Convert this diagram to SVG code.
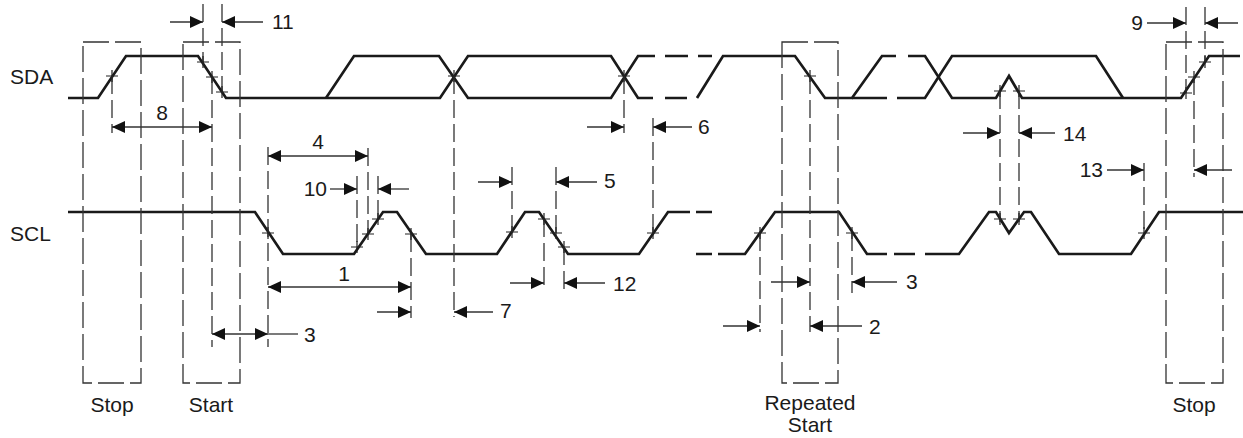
<svg xmlns="http://www.w3.org/2000/svg" width="1243" height="438" viewBox="0 0 1243 438">
<style>
.sig{fill:none;stroke:#1a1a1a;stroke-width:2.7;stroke-linejoin:miter}
.dl{fill:none;stroke:#333;stroke-width:1.3;stroke-dasharray:18,6}
.bx{fill:none;stroke:#333;stroke-width:1.3;stroke-dasharray:26,6}
.ar{fill:none;stroke:#333;stroke-width:1.3}
.cr{fill:none;stroke:#222;stroke-width:1.2}
text{font-family:"Liberation Sans",Arial,sans-serif;font-size:21px;fill:#1a1a1a}
</style>
<defs>
<marker id="ah" viewBox="0 0 13 12" refX="13" refY="6" markerWidth="13" markerHeight="12" markerUnits="userSpaceOnUse" orient="auto-start-reverse">
<path d="M0,0 L13,6 L0,12 z" fill="#111"/>
</marker>
</defs>

<g id="signal-labels">
<text x="10" y="84">SDA</text>
<text x="10" y="241">SCL</text>
</g>

<g id="sda">
<path class="sig" d="M68,98 L98,98 L126,56 L198,56 L226,98 L440,98 L468,56 L611,56 L638,98 L653,98"/>
<path class="sig" d="M326,98 L354,56 L439,56 L468,98 L611,98 L638,56 L655,56"/>
<path class="sig" d="M665,98 L687,98 M665,56 L688,56 M698,56 L712,56"/>
<path class="sig" d="M697,98 L723,56 L795,56 L825,98 L852,98 L882,56 L896,56 M908,56 L925,56 L952,98 L996,98 L1009,76 L1022,98 L1181,98 L1209,56 L1240,56"/>
<path class="sig" d="M852,98 L887,98 M897,98 L925,98 L952,56 L1096,56 L1123,98"/>
</g>

<g id="scl">
<path class="sig" d="M68,212 L255,212 L283,254 L354,254 L383,212 L397,212 L426,254 L497,254 L525,212 L539,212 L568,254 L639,254 L668,212 L690,212"/>
<path class="sig" d="M696,212 L712,212 M696,254 L712,254"/>
<path class="sig" d="M718,254 L745,254 L775,212 L839,212 L867,254 L887,254 M894,254 L915,254 M925,254 L959,254 L989,212 L996,212 L1009,233 L1024,212 L1031,212 L1059,254 L1131,254 L1159,212 L1243,212"/>
</g>

<g id="stop-box-left">
<path class="bx" d="M83,42 L141,42 L141,383 L83,383 Z"/>
<text x="112" y="412" text-anchor="middle">Stop</text>
</g>
<g id="start-box">
<path class="bx" d="M183,42 L240,42 L240,383 L183,383 Z"/>
<text x="211" y="412" text-anchor="middle">Start</text>
</g>
<g id="repeated-start-box">
<path class="bx" d="M782,42 L838,42 L838,383 L782,383 Z"/>
<text x="810" y="410" text-anchor="middle">Repeated</text>
<text x="810" y="432" text-anchor="middle">Start</text>
</g>
<g id="stop-box-right">
<path class="bx" d="M1166,42 L1223,42 L1223,383 L1166,383 Z"/>
<text x="1194" y="412" text-anchor="middle">Stop</text>
</g>

<g id="extension-lines">
<path class="dl" d="M112,76 V133 M203,4 V63 M222,4 V93 M212,76 V347 M268,147 V347 M357,176 V247 M368,148 V234 M378,176 V219 M411,234 V318 M454,76 V317 M512,167 V232 M556,167 V233 M544,219 V290 M564,247 V290 M624,76 V133 M653,118 V233 M760,233 V332 M810,76 V332 M852,233 V293 M1000,91 V222 M1019,91 V222 M1144,163 V233 M1186,7 V93 M1194,77 V177 M1205,7 V62"/>
</g>

<g id="crosses">
<path class="cr" d="M106,76 h12 M112,70 v12 M197,62 h12 M203,56 v12 M206,77 h12 M212,71 v12 M216,92 h12 M222,86 v12 M262,233 h12 M268,227 v12 M351,247 h12 M357,241 v12 M362,234 h12 M368,228 v12 M372,219 h12 M378,213 v12 M405,234 h12 M411,228 v12 M448,76 h12 M454,70 v12 M506,232 h12 M512,226 v12 M538,219 h12 M544,213 v12 M550,233 h12 M556,227 v12 M558,247 h12 M564,241 v12 M618,76 h12 M624,70 v12 M647,233 h12 M653,227 v12 M754,233 h12 M760,227 v12 M804,76 h12 M810,70 v12 M846,233 h12 M852,227 v12 M994,91 h12 M1000,85 v12 M1013,91 h12 M1019,85 v12 M994,219 h12 M1000,213 v12 M1013,219 h12 M1019,213 v12 M1138,233 h12 M1144,227 v12 M1180,93 h12 M1186,87 v12 M1188,77 h12 M1194,71 v12 M1199,62 h12 M1205,56 v12"/>
</g>

<g id="connectors">
<path class="ar" marker-end="url(#ah)" d="M170,22 H203"/>
<path class="ar" marker-end="url(#ah)" d="M263,22 H222"/>
<path class="ar" marker-start="url(#ah)" marker-end="url(#ah)" d="M112,127 H212"/>
<path class="ar" marker-start="url(#ah)" marker-end="url(#ah)" d="M268,156 H368"/>
<path class="ar" marker-end="url(#ah)" d="M330,189 H357"/>
<path class="ar" marker-end="url(#ah)" d="M409,189 H378"/>
<path class="ar" marker-start="url(#ah)" marker-end="url(#ah)" d="M268,287 H411"/>
<path class="ar" marker-start="url(#ah)" marker-end="url(#ah)" d="M212,334 H268"/>
<path class="ar" d="M268,334 H298"/>
<path class="ar" marker-end="url(#ah)" d="M377,312 H411"/>
<path class="ar" marker-end="url(#ah)" d="M493,312 H454"/>
<path class="ar" marker-end="url(#ah)" d="M478,182 H512"/>
<path class="ar" marker-end="url(#ah)" d="M597,182 H556"/>
<path class="ar" marker-end="url(#ah)" d="M510,283 H544"/>
<path class="ar" marker-end="url(#ah)" d="M605,283 H564"/>
<path class="ar" marker-end="url(#ah)" d="M587,127 H624"/>
<path class="ar" marker-end="url(#ah)" d="M692,127 H653"/>
<path class="ar" marker-end="url(#ah)" d="M963,133 H1000"/>
<path class="ar" marker-end="url(#ah)" d="M1055,133 H1019"/>
<path class="ar" marker-end="url(#ah)" d="M1107,170 H1144"/>
<path class="ar" marker-end="url(#ah)" d="M1232,170 H1194"/>
<path class="ar" marker-end="url(#ah)" d="M1147,23 H1186"/>
<path class="ar" marker-end="url(#ah)" d="M1238,23 H1205"/>
<path class="ar" marker-end="url(#ah)" d="M771,282 H810"/>
<path class="ar" marker-end="url(#ah)" d="M897,282 H852"/>
<path class="ar" marker-end="url(#ah)" d="M723,326 H760"/>
<path class="ar" marker-end="url(#ah)" d="M862,326 H810"/>
</g>

<g id="dimension-labels">
<text x="272" y="29">11</text>
<text x="162" y="120" text-anchor="middle">8</text>
<text x="318" y="149" text-anchor="middle">4</text>
<text x="327" y="196" text-anchor="end">10</text>
<text x="344" y="281" text-anchor="middle">1</text>
<text x="304" y="342">3</text>
<text x="500" y="318">7</text>
<text x="604" y="188">5</text>
<text x="613" y="291">12</text>
<text x="698" y="134">6</text>
<text x="1063" y="141">14</text>
<text x="1103" y="177" text-anchor="end">13</text>
<text x="1143" y="30" text-anchor="end">9</text>
<text x="906" y="289">3</text>
<text x="869" y="334">2</text>
</g>
</svg>
